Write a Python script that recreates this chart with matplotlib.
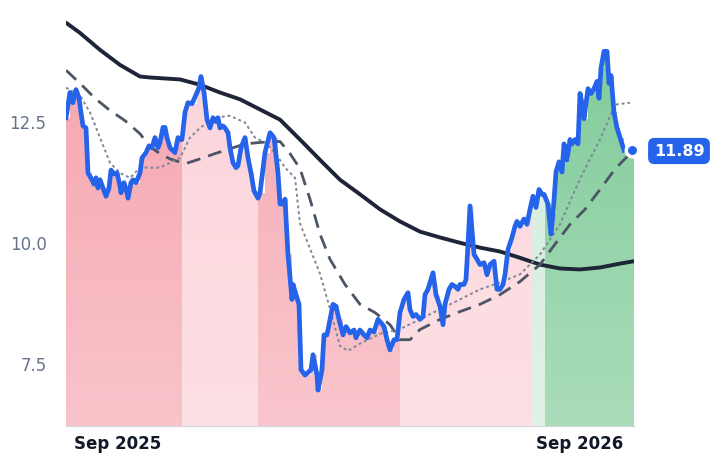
import numpy as np
import pandas as pd
import matplotlib
matplotlib.use("Agg")
import matplotlib.pyplot as plt
import matplotlib.dates as mdates
from matplotlib.colors import LinearSegmentedColormap

# ---- data (positions, converted to dates via chart scale) ----
START = pd.Timestamp("2025-07-22")
DAYS_PER_UNIT = 365 / 462.0  # chart scale used while reading

price_pos = [66,70,73,76,79,81,83,86,88,92,94,96,98,100,103,106,109,111,114,117,120,121,124,127,128,131,133,136,140,142,146,149,152,155,158,160,163,165,167,170,175,178,180,182,185,188,192,197,199,201,204,207,210,213,216,218,220,223,225,228,230,233,236,238,241,245,248,251,254,258,260,265,270,274,278,280,283,285,288,292,293,296,299,301,305,311,313,317,318,322,324,327,330,333,336,339,343,346,350,354,356,360,364,367,370,374,378,381,384,387,390,394,397,400,404,408,410,413,416,420,423,425,428,431,433,436,440,443,445,449,452,455,458,460,464,466,468,470,474,477,480,484,487,490,494,497,500,503,505,508,512,515,517,520,524,527,530,533,536,539,542,544,548,551,553,556,559,562,564,567,570,572,575,578,580,583,584,588,591,594,597,599,601,604,607,609,611,614,617,620,624]
price_val = [12.56,13.08,12.87,13.14,12.97,12.66,12.39,12.35,11.42,11.28,11.19,11.32,11.11,11.28,11.11,10.94,11.11,11.48,11.40,11.42,11.15,11.01,11.22,11.01,10.90,11.22,11.28,11.22,11.42,11.73,11.84,11.98,11.94,12.15,11.94,12.05,12.36,12.36,12.15,11.94,11.84,12.15,12.11,12.11,12.67,12.87,12.85,13.08,13.18,13.41,13.08,12.52,12.35,12.56,12.48,12.56,12.35,12.39,12.35,12.25,11.94,11.63,11.53,11.57,11.94,12.15,11.73,11.42,11.05,10.90,11.01,11.84,12.25,12.15,11.42,10.78,10.78,10.88,9.74,8.81,9.12,8.91,8.71,7.36,7.25,7.36,7.67,7.25,6.94,7.36,8.08,8.08,8.40,8.71,8.67,8.40,8.08,8.25,8.12,8.18,8.02,8.18,8.08,8.02,8.18,8.14,8.40,8.33,8.25,7.98,7.77,7.98,7.98,8.54,8.81,8.95,8.60,8.46,8.50,8.40,8.46,8.91,9.02,9.22,9.36,8.91,8.67,8.29,8.71,9.02,9.12,9.08,9.02,9.12,9.12,9.22,9.95,10.74,9.74,9.64,9.53,9.57,9.32,9.53,9.60,9.02,9.02,9.12,9.32,9.84,10.09,10.32,10.42,10.32,10.47,10.36,10.67,10.94,10.71,11.08,10.98,10.98,10.78,10.16,10.57,11.44,11.65,11.44,12.02,11.69,12.11,12.02,12.11,12.02,13.06,12.75,12.54,13.16,13.06,13.16,13.31,12.96,13.58,13.93,13.93,13.27,13.43,12.67,12.35,12.15,11.89]

long_pos = [66,80,100,120,140,150,180,200,220,240,260,280,300,320,340,360,380,400,420,440,460,480,500,520,540,560,580,600,620,634]
long_val = [14.52,14.31,13.96,13.65,13.41,13.39,13.35,13.24,13.08,12.94,12.73,12.52,12.11,11.69,11.28,10.98,10.67,10.42,10.21,10.09,9.98,9.88,9.80,9.67,9.53,9.45,9.43,9.47,9.55,9.60]

mid_pos = [66,80,95,110,125,140,150,160,170,185,200,215,230,245,260,280,290,300,310,320,330,345,360,375,390,400,410,420,440,460,480,500,520,540,555,570,585,600,615,630]
mid_val = [13.54,13.27,12.96,12.71,12.50,12.23,11.96,11.82,11.71,11.61,11.71,11.82,11.92,12.02,12.05,12.07,11.82,11.51,10.88,10.16,9.64,9.12,8.71,8.54,8.29,7.98,7.98,8.19,8.40,8.56,8.71,8.91,9.18,9.53,9.95,10.36,10.67,11.08,11.50,11.82]

short_pos = [66,80,90,100,110,120,130,140,160,180,190,200,215,230,245,255,265,275,285,295,300,310,320,330,340,348,360,380,400,420,440,460,480,500,520,540,560,580,600,615,630]
short_val = [13.18,13.02,12.67,12.15,11.63,11.42,11.32,11.53,11.53,11.73,12.15,12.35,12.56,12.60,12.46,12.15,12.05,11.84,11.53,11.32,10.38,9.86,9.34,8.62,7.85,7.75,7.90,8.10,8.20,8.40,8.61,8.81,9.02,9.16,9.33,9.74,10.36,11.30,12.11,12.83,12.87]

band_pos = [66, 182, 258, 400, 532, 545, 634]
band_top = ["#f5a3ae", "#fbd3d9", "#f6a9b3", "#fcd7dd", "#d3ecdc", "#7ecb98"]
band_bot = ["#f9c3ca", "#fde0e4", "#f9c5cc", "#fde0e4", "#dff2e6", "#aadcba"]

yticks = [7.5, 10.0, 12.5]
xtick_labels = ["Sep 2025", "Sep 2026"]
xtick_dates = ["2025-09-01", "2026-09-01"]
last_label = "11.89"


def to_dates(pos):
    return START + pd.to_timedelta((np.array(pos) - 66) * DAYS_PER_UNIT, unit="D")


pd_dates = to_dates(price_pos)
pv = np.array(price_val)
x = mdates.date2num(pd_dates)
bx = mdates.date2num(to_dates(band_pos))

fig = plt.figure(figsize=(7.18, 4.64), dpi=100)
ax = fig.add_axes([66/718, 37/464, (634-66)/718, (427-15)/464])
YMIN, YMAX = 6.2, 14.7

for i in range(len(band_top)):
    x0, x1 = bx[i], bx[i+1]
    m = (x >= x0) & (x <= x1)
    xs = np.concatenate([[x0], x[m], [x1]])
    ys = np.concatenate([[np.interp(x0, x, pv)], pv[m], [np.interp(x1, x, pv)]])
    poly = ax.fill_between(xs, YMIN, ys, step="post", color="none", lw=0)
    cmap = LinearSegmentedColormap.from_list("b", [band_bot[i], band_top[i]])
    im = ax.imshow(np.linspace(0, 1, 100).reshape(-1, 1), cmap=cmap, aspect="auto",
                   extent=[x0, x1, YMIN, YMAX], origin="lower", zorder=1)
    im.set_clip_path(poly.get_paths()[0], transform=ax.transData)

ax.plot(to_dates(long_pos), long_val, color="#1e2538", lw=2.8, zorder=3, solid_capstyle="round")
ax.plot(to_dates(mid_pos), mid_val, color="#4b5565", lw=2.0, ls=(0, (5, 3)), zorder=3)
ax.plot(to_dates(short_pos), short_val, color="#7e8898", lw=1.4, ls=(0, (1.5, 1.5)), zorder=3)
ax.plot(pd_dates, pv, color="#2563eb", lw=3.4, zorder=4, solid_joinstyle="round")
ax.plot(to_dates([632]), pv[-1:], "o", ms=9, mfc="#2563eb", mec="white", mew=2.5, zorder=5, clip_on=False)

fig.text(679/718, 1 - 152/464, last_label, ha="center", va="center", color="white",
         fontsize=11.5, fontweight="bold",
         bbox=dict(boxstyle="round,pad=0.35,rounding_size=0.4", fc="#2563eb", ec="none"))

ax.set_xlim(bx[0], bx[-1])
ax.set_ylim(YMIN, YMAX)
ax.set_yticks(yticks)
ax.set_yticklabels([f"{v:.1f}" for v in yticks])
ax.set_xticks(mdates.date2num(pd.to_datetime(xtick_dates)))
ax.set_xticklabels(xtick_labels, fontweight="bold", fontsize=12, color="#111827")
ax.tick_params(axis="y", length=0, labelsize=12, labelcolor="#64748b", pad=14)
ax.tick_params(axis="x", length=0, pad=6)
for s in ["top", "right", "left"]:
    ax.spines[s].set_visible(False)
ax.spines["bottom"].set_color("#d1d5db")

fig.savefig("out.png", dpi=100)
